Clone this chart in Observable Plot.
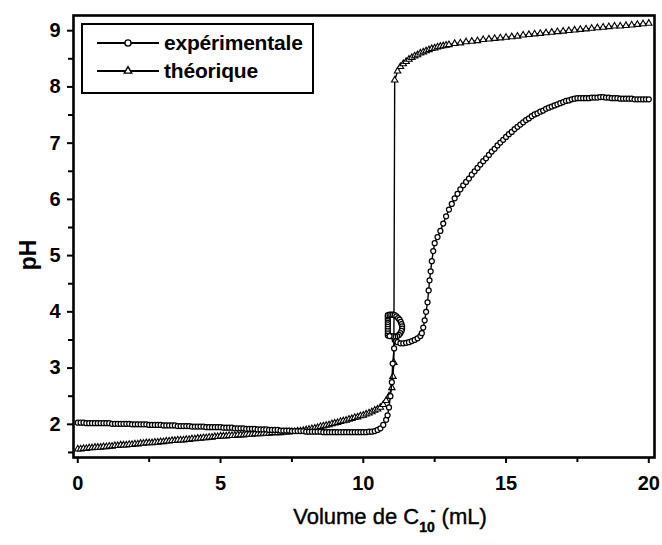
<!DOCTYPE html>
<html>
<head>
<meta charset="utf-8">
<script src="https://cdn.jsdelivr.net/npm/d3@7"></script>
<script src="https://cdn.jsdelivr.net/npm/@observablehq/plot@0.6"></script>
<style>
  html, body { margin: 0; padding: 0; background: white; }
  #wrap { position: relative; width: 662px; height: 545px; font-family: "Liberation Sans", Arial, sans-serif; }
  #legend { position: absolute; left: 81px; top: 23px; width: 229px; height: 67px; border: 2px solid black; background: white; }
  .row { position: absolute; left: 14px; height: 22px; display: flex; align-items: center; }
  .row span { font-weight: bold; font-size: 21px; margin-left: 5px; letter-spacing: -0.2px; }
</style>
</head>
<body>
<div id="wrap"><div id="chart"></div>
<div id="legend">
  <div class="row" style="top:7px"><svg width="62" height="14" id="lg1"></svg><span>expérimentale</span></div>
  <div class="row" style="top:35px"><svg width="62" height="14" id="lg2"></svg><span>théorique</span></div>
</div>
</div>
<script>
// Experimental titration (circles)
const expVolume = [
  0,0.1,0.2,0.3,0.4,0.5,0.6,0.7,0.8,0.9,1.0,
  1.1,1.2,1.3,1.4,1.5,1.6,1.7,1.8,1.9,2.0,
  2.1,2.2,2.3,2.4,2.5,2.6,2.7,2.8,2.9,3.0,
  3.1,3.2,3.3,3.4,3.5,3.6,3.7,3.8,3.9,4.0,
  4.1,4.2,4.3,4.4,4.5,4.6,4.7,4.8,4.9,5.0,
  5.1,5.2,5.3,5.4,5.5,5.6,5.7,5.8,5.9,6.0,
  6.1,6.2,6.3,6.4,6.5,6.6,6.7,6.8,6.9,7.0,
  7.1,7.2,7.3,7.4,7.5,7.6,7.7,7.8,7.9,8.0,
  8.1,8.2,8.3,8.4,8.5,8.6,8.7,8.8,8.9,9.0,
  9.1,9.2,9.3,9.4,9.5,9.6,9.7,9.8,9.9,10.0,
  10.1,10.2,10.3,10.4,10.5,10.6,10.7,10.8,
  10.85,10.9,10.95,11.0,11.03,11.08,11.1,
  10.86,10.86,10.86,10.86,10.86,10.86,10.86,10.86,10.86,10.86,10.86,
  10.92,10.98,11.04,11.1,11.16,11.22,11.27,11.31,11.34,11.36,11.36,11.34,11.3,11.25,11.19,11.12,11.05,10.98,10.92,
  11.15,11.2,11.3,11.4,11.5,11.6,11.7,11.8,11.9,12.0,12.05,12.1,12.15,12.2,12.25,12.29,12.32,12.36,12.4,12.45,12.5,
  12.6,12.7,12.8,12.9,13.0,
  13.1,13.2,13.3,13.4,13.5,13.6,13.7,13.8,13.9,14.0,
  14.1,14.2,14.3,14.4,14.5,14.6,14.7,14.8,14.9,15.0,
  15.1,15.2,15.3,15.4,15.5,15.6,15.7,15.8,15.9,16.0,
  16.1,16.2,16.3,16.4,16.5,16.6,16.7,16.8,16.9,17.0,
  17.1,17.2,17.3,17.4,17.5,17.6,17.7,17.8,17.9,18.0,
  18.1,18.2,18.3,18.4,18.5,18.6,18.7,18.8,18.9,19.0,
  19.1,19.2,19.3,19.4,19.5,19.6,19.7,19.8,19.9,20.0
];
const expPH = [
  2.03,2.03,2.03,2.02,2.02,2.02,2.02,2.02,2.02,2.02,2.02,
  2.02,2.01,2.01,2.01,2.01,2.01,2.01,2.01,2.00,2.00,
  2.00,2.00,2.00,2.00,1.99,1.99,1.99,1.99,1.99,1.98,
  1.98,1.98,1.98,1.98,1.97,1.97,1.97,1.97,1.97,1.96,
  1.96,1.96,1.96,1.96,1.95,1.95,1.95,1.95,1.95,1.95,
  1.94,1.94,1.94,1.94,1.93,1.93,1.93,1.93,1.92,1.92,
  1.92,1.92,1.91,1.91,1.91,1.91,1.90,1.90,1.90,1.90,
  1.89,1.89,1.89,1.89,1.88,1.88,1.88,1.88,1.88,1.87,
  1.87,1.87,1.87,1.87,1.87,1.86,1.86,1.86,1.86,1.86,
  1.86,1.86,1.86,1.86,1.86,1.86,1.86,1.86,1.86,1.86,
  1.86,1.87,1.87,1.88,1.90,1.93,1.99,2.08,
  2.16,2.30,2.50,2.75,3.08,3.35,3.50,
  3.58,3.62,3.66,3.70,3.74,3.78,3.82,3.86,3.89,3.92,3.94,
  3.95,3.95,3.95,3.94,3.92,3.89,3.86,3.82,3.78,3.74,3.70,3.66,3.62,3.59,3.57,3.56,3.56,3.57,3.57,
  3.48,3.46,3.44,3.44,3.45,3.46,3.48,3.50,3.53,3.57,3.62,3.72,3.85,4.00,4.17,4.38,4.56,4.72,4.90,5.08,5.22,
  5.33,5.44,5.57,5.70,5.82,
  5.92,6.02,6.10,6.18,6.25,6.31,6.37,6.44,6.50,6.56,
  6.62,6.68,6.73,6.79,6.85,6.90,6.96,7.01,7.06,7.11,
  7.16,7.20,7.25,7.29,7.33,7.37,7.41,7.44,7.48,7.51,
  7.53,7.56,7.58,7.61,7.63,7.65,7.67,7.69,7.71,7.73,
  7.75,7.76,7.78,7.79,7.80,7.80,7.80,7.80,7.80,7.81,
  7.81,7.81,7.82,7.82,7.81,7.81,7.80,7.80,7.80,7.79,
  7.79,7.79,7.79,7.79,7.78,7.78,7.78,7.78,7.78,7.78
];
// Theoretical curve (triangles)
const theoVolume = [
  0,0.1,0.2,0.3,0.4,0.5,0.6,0.7,0.8,0.9,1.0,
  1.1,1.2,1.3,1.4,1.5,1.6,1.7,1.8,1.9,2.0,
  2.1,2.2,2.3,2.4,2.5,2.6,2.7,2.8,2.9,3.0,
  3.1,3.2,3.3,3.4,3.5,3.6,3.7,3.8,3.9,4.0,
  4.1,4.2,4.3,4.4,4.5,4.6,4.7,4.8,4.9,5.0,
  5.1,5.2,5.3,5.4,5.5,5.6,5.7,5.8,5.9,6.0,
  6.1,6.2,6.3,6.4,6.5,6.6,6.7,6.8,6.9,7.0,
  7.1,7.2,7.3,7.4,7.5,7.6,7.7,7.8,7.9,8.0,
  8.1,8.2,8.3,8.4,8.5,8.6,8.7,8.8,8.9,9.0,
  9.1,9.2,9.3,9.4,9.5,9.6,9.7,9.8,9.9,10.0,
  10.1,10.2,10.3,10.4,10.5,10.6,10.7,10.8,10.9,11.0,
  11.04,11.07,
  11.1,11.2,11.3,11.4,11.5,11.6,11.7,11.8,11.9,12.0,
  12.1,12.2,12.3,12.4,12.5,12.6,12.7,12.8,12.9,13.0,
  13.2,13.4,13.6,13.8,14.0,14.2,14.4,14.6,14.8,15.0,
  15.2,15.4,15.6,15.8,16.0,16.2,16.4,16.6,16.8,17.0,
  17.2,17.4,17.6,17.8,18.0,18.2,18.4,18.6,18.8,19.0,
  19.2,19.4,19.6,19.8,20.0
];
const theoPH = [
  1.56,1.56,1.57,1.57,1.58,1.58,1.59,1.59,1.59,1.60,1.60,
  1.61,1.61,1.62,1.62,1.63,1.63,1.63,1.64,1.64,1.65,
  1.65,1.66,1.66,1.67,1.67,1.67,1.68,1.68,1.69,1.69,
  1.70,1.70,1.71,1.71,1.72,1.72,1.72,1.73,1.73,1.74,
  1.74,1.75,1.75,1.76,1.76,1.77,1.77,1.78,1.78,1.79,
  1.79,1.79,1.80,1.80,1.80,1.81,1.81,1.81,1.82,1.82,
  1.82,1.83,1.83,1.83,1.84,1.84,1.84,1.85,1.85,1.85,
  1.85,1.86,1.86,1.86,1.87,1.87,1.88,1.88,1.89,1.90,
  1.91,1.92,1.93,1.94,1.96,1.97,1.98,1.99,2.01,2.02,
  2.03,2.05,2.06,2.07,2.09,2.10,2.12,2.13,2.15,2.16,
  2.18,2.20,2.22,2.25,2.27,2.30,2.35,2.42,2.50,2.65,
  2.85,3.10,
  8.12,8.28,8.36,8.41,8.45,8.49,8.52,8.55,8.57,8.60,
  8.62,8.64,8.66,8.68,8.69,8.71,8.72,8.73,8.74,8.75,
  8.77,8.78,8.80,8.81,8.82,8.84,8.85,8.86,8.87,8.88,
  8.89,8.90,8.92,8.93,8.94,8.95,8.96,8.97,8.98,8.99,
  9.00,9.01,9.02,9.03,9.04,9.05,9.06,9.07,9.08,9.08,
  9.09,9.10,9.11,9.12,9.13
];
const xMajorTicks = [0, 5, 10, 15, 20];
const xMinorTicks = [2.5, 7.5, 12.5, 17.5];
const yMajorTicks = [2, 3, 4, 5, 6, 7, 8, 9];
const yMinorTicks = [1.5, 2.5, 3.5, 4.5, 5.5, 6.5, 7.5, 8.5];

const expData = expVolume.map((v, i) => ({v, ph: expPH[i]}));
const theoData = theoVolume.map((v, i) => ({v, ph: theoPH[i]}));

const chart = Plot.plot({
  width: 662, height: 545,
  marginLeft: 73, marginRight: 8, marginTop: 15, marginBottom: 88,
  x: {domain: [-0.15, 20.2]},
  y: {domain: [1.41, 9.27]},
  style: {fontFamily: "'Liberation Sans', Arial, sans-serif", background: "white", color: "black", overflow: "visible"},
  marks: [
    Plot.line(theoData, {x: "v", y: "ph", stroke: "black", strokeWidth: 1.4}),
    Plot.dot(theoData, {x: "v", y: "ph", symbol: "triangle", r: 2.4, stroke: "black", fill: "white", strokeWidth: 1.1}),
    Plot.line(expData, {x: "v", y: "ph", stroke: "black", strokeWidth: 1.4}),
    Plot.dot(expData, {x: "v", y: "ph", symbol: "circle", r: 2.5, stroke: "black", fill: "white", strokeWidth: 1.25}),
    Plot.frame({stroke: "black", strokeWidth: 2.6}),
    Plot.axisX({ticks: xMajorTicks, tickSize: 6, tickPadding: 12, strokeWidth: 2, fontSize: 20, fontWeight: "bold", tickFormat: d => String(d), label: null}),
    Plot.axisX({ticks: xMinorTicks, tickSize: 5, strokeWidth: 2, text: null, label: null}),
    Plot.axisY({ticks: yMajorTicks, tickSize: 6, tickPadding: 7, strokeWidth: 2, fontSize: 20, fontWeight: "bold", tickFormat: d => String(d), label: null}),
    Plot.axisY({ticks: yMinorTicks, tickSize: 5, strokeWidth: 2, text: null, label: null})
  ]
});
document.getElementById("chart").appendChild(chart);

// Axis titles (with subscript / superscript)
const svg = d3.select(chart);
const xt = svg.append("text")
  .attr("x", 390).attr("y", 524)
  .attr("text-anchor", "middle")
  .attr("font-size", 22)
  .attr("font-family", "'Liberation Sans', Arial, sans-serif")
  .attr("stroke", "black").attr("stroke-width", 0.4)
  .attr("fill", "black");
xt.append("tspan").text("Volume de C");
xt.append("tspan").attr("font-size", 14).attr("font-weight", "bold").attr("dy", 8).text("10");
xt.append("tspan").attr("font-size", 14).attr("font-weight", "bold").attr("dy", -17).attr("dx", -4).text("-");
xt.append("tspan").attr("dy", 9).text(" (mL)");

svg.append("text")
  .attr("transform", "translate(36,255) rotate(-90)")
  .attr("text-anchor", "middle")
  .attr("font-size", 23)
  .attr("font-weight", "bold")
  .attr("font-family", "'Liberation Sans', Arial, sans-serif")
  .attr("fill", "black")
  .text("pH");

// Legend samples
function sample(id, symbol) {
  const s = d3.select(id);
  s.append("line").attr("x1", 0).attr("x2", 62).attr("y1", 7).attr("y2", 7).attr("stroke", "black").attr("stroke-width", 2);
  s.append("path").attr("transform", "translate(31,7)")
    .attr("d", d3.symbol(symbol, symbol === d3.symbolCircle ? 30 : 24)())
    .attr("fill", "white").attr("stroke", "black").attr("stroke-width", 1.4);
}
sample("#lg1", d3.symbolCircle);
sample("#lg2", d3.symbolTriangle);
</script>
</body>
</html>
